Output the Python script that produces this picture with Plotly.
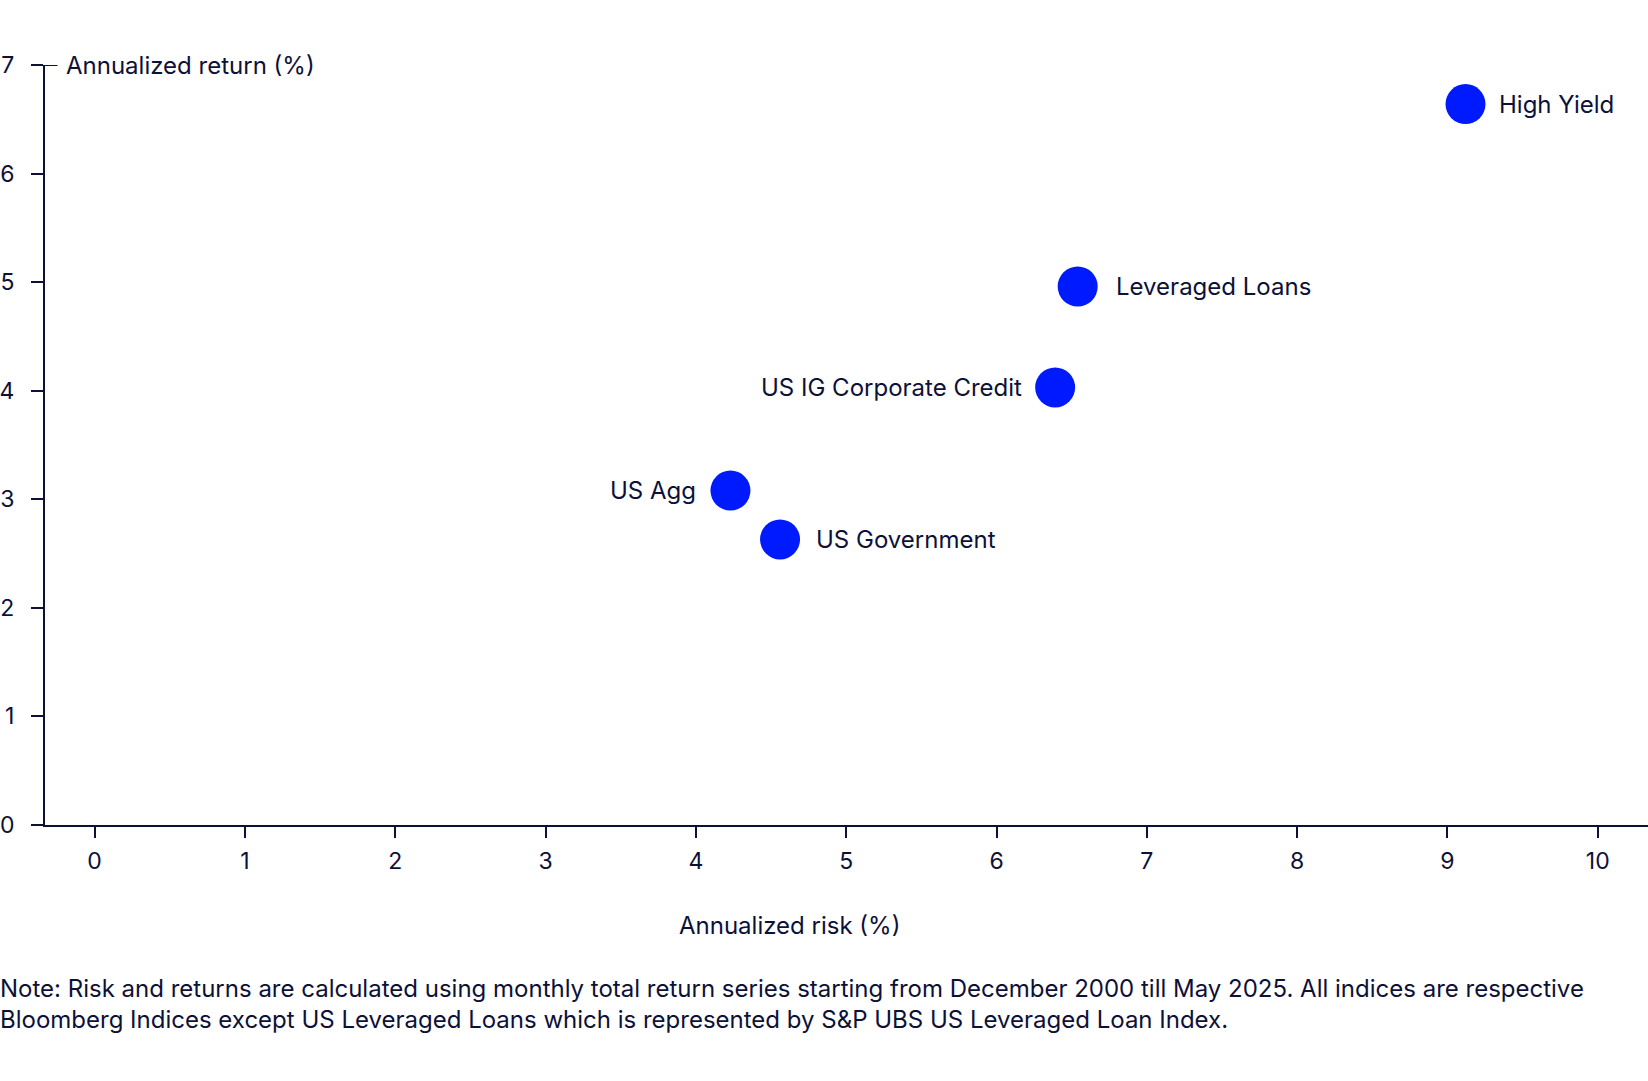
import plotly.graph_objects as go

# Annualized risk / return per index
names = ["US Agg", "US Government", "US IG Corporate Credit", "Leveraged Loans", "High Yield"]
risk = [4.23, 4.56, 6.39, 6.54, 9.12]
ret = [3.08, 2.63, 4.03, 4.96, 6.64]

# label placement (styling only)
label_left = [True, False, True, False, False]
label_gap = [32, 34, 31, 36, 31]

x_ticks = list(range(0, 11))
y_ticks = list(range(0, 8))

NAVY = "#0d1138"
BLUE = "#001aff"
FONT = "Inter, Roboto, sans-serif"

fig = go.Figure()

fig.add_trace(go.Scatter(
    x=risk,
    y=ret,
    mode="markers",
    marker=dict(size=40, color=BLUE, line=dict(width=0)),
    cliponaxis=False,
    showlegend=False,
    hoverinfo="skip",
))

# point labels, pushed a bit further off the markers than textposition would
for name, xv, yv, left, gap in zip(names, risk, ret, label_left, label_gap):
    fig.add_annotation(
        text=name, x=xv, y=yv, xref="x", yref="y", showarrow=False,
        xanchor="right" if left else "left", yanchor="middle",
        xshift=-gap if left else gap,
        font=dict(size=24, color=NAVY, family=FONT),
    )

fig.update_xaxes(
    range=[-0.33, 10.334],
    tickvals=x_ticks,
    ticks="outside",
    ticklen=11,
    tickwidth=2,
    tickcolor=NAVY,
    ticklabelstandoff=3,
    showline=True,
    linecolor=NAVY,
    linewidth=2,
    showgrid=False,
    zeroline=False,
    tickfont=dict(size=23, color=NAVY, family=FONT),
)

fig.update_yaxes(
    range=[0, 7],
    tickvals=y_ticks,
    ticks="outside",
    ticklen=12,
    tickwidth=2,
    tickcolor=NAVY,
    ticklabelstandoff=12,
    showline=True,
    linecolor=NAVY,
    linewidth=2,
    showgrid=False,
    zeroline=False,
    tickfont=dict(size=23, color=NAVY, family=FONT),
)

# x axis line runs a little past the y axis on the left, T-cap at the top of y axis
fig.add_shape(type="line", xref="paper", yref="y", x0=-0.0068, x1=0, y0=0, y1=0,
              line=dict(color=NAVY, width=2))
fig.add_shape(type="line", xref="paper", yref="y", x0=0, x1=0.0078, y0=7, y1=7,
              line=dict(color=NAVY, width=2))

fig.add_annotation(
    text="Annualized return (%)", xref="paper", yref="y", x=0.0118, y=7,
    xanchor="left", yanchor="middle", showarrow=False,
    font=dict(size=24, color=NAVY, family=FONT),
)
fig.add_annotation(
    text="Annualized risk (%)", xref="x", yref="paper", x=4.62, y=-0.132,
    xanchor="center", yanchor="middle", showarrow=False,
    font=dict(size=24, color=NAVY, family=FONT),
)
fig.add_annotation(
    text=("Note: Risk and returns are calculated using monthly total return series starting from "
          "December 2000 till May 2025. All indices are respective<br>Bloomberg Indices except "
          "US Leveraged Loans which is represented by S&P UBS US Leveraged Loan Index."),
    xref="paper", yref="paper", x=-0.0294, y=-0.194,
    xanchor="left", yanchor="top", align="left", showarrow=False,
    font=dict(size=24, color=NAVY, family=FONT),
)

fig.update_layout(
    width=1648,
    height=1081,
    margin=dict(l=38, r=0, t=65, b=256),
    plot_bgcolor="white",
    paper_bgcolor="white",
    font=dict(family=FONT, color=NAVY),
)

fig.write_html(
    "out.html",
    config={"displayModeBar": False},
    post_script="document.body.style.margin = '0px';",
)
